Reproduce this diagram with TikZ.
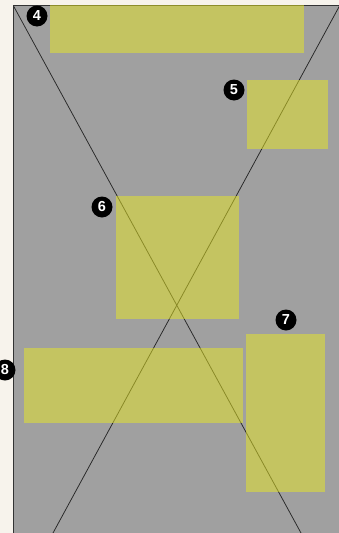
\documentclass[tikz,border=0pt]{standalone}
\usepackage{fontspec}
\setmainfont{Liberation Sans}
\definecolor{paper}{HTML}{F7F3EC}
\definecolor{slab}{HTML}{A0A0A0}
\definecolor{boxfill}{RGB}{232,232,36}

\begin{document}
\begin{tikzpicture}[
    x=1pt, y=-1pt,
    marker/.style={circle, fill=black, text=white, inner sep=0pt, minimum size=21pt, font=\bfseries\fontsize{14.5}{14.5}\selectfont},
    zone/.style={fill=boxfill, fill opacity=0.5}
]
    % Page and slab
    \fill[paper] (0,0) rectangle (339,533);
    \useasboundingbox (0,0) rectangle (339,533);
    \fill[slab] (13,5) rectangle (339,533);
    \coordinate (tl) at (13,5);
    \coordinate (tr) at (340,5);
    \coordinate (bl) at (53,533);
    \coordinate (br) at (301,533);
    \begin{scope}
        \clip (13,5) rectangle (339,533);
        \draw[black!85, line width=0.75pt] (tl) -- (br);
        \draw[black!85, line width=0.75pt] (tr) -- (bl);
    \end{scope}
    \draw[black!80, line width=1pt] (339,5) -- (tl) -- (13,533);

    % Zones
    \fill[zone] (50,5) rectangle (304,53);
    \fill[zone] (247,80) rectangle (328,149);
    \fill[zone] (116,196) rectangle (239,319);
    \fill[zone] (246,334) rectangle (325,492);
    \fill[zone] (24,348) rectangle (243,423);

    % Markers
    \node[marker] (m4) at (37,16) {4};
    \node[marker] (m5) at (234,90) {5};
    \node[marker] (m6) at (102,207) {6};
    \node[marker] (m7) at (286,320) {7};
    \node[marker] (m8) at (5,370) {8};
\end{tikzpicture}
\end{document}
